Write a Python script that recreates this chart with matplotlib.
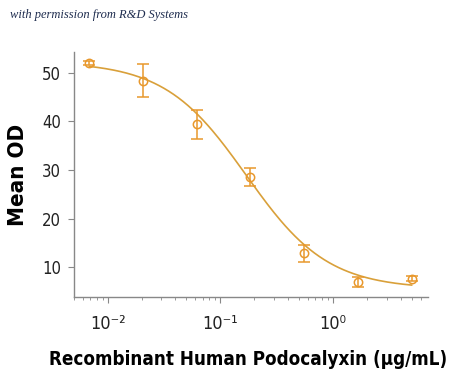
import numpy as np
import matplotlib
matplotlib.use('Agg')
import matplotlib.pyplot as plt
from matplotlib.ticker import LogLocator, NullFormatter, FixedFormatter

# concentrations (ug/mL) and mean OD with error
conc = [0.00686, 0.0206, 0.0617, 0.185, 0.556, 1.667, 5.0]
od = [52.0, 48.4, 39.4, 28.6, 12.8, 7.0, 7.6]
od_err = [0.4, 3.4, 3.0, 1.8, 1.7, 1.0, 0.5]
xtick_vals = [0.01, 0.1, 1.0]
xtick_labels = ['10\u207b\u00b2', '10\u207b\u00b9', '10\u2070']

# four parameter logistic fit
fit_bottom = 5.5
fit_top = 52.3
fit_ec50 = 0.17
fit_hill = 1.2

orange = '#E8982C'
line_col = '#D9A03A'

plt.rcParams['font.family'] = 'DejaVu Sans'
plt.rcParams['font.stretch'] = 'condensed'

fig = plt.figure(figsize=(4.5, 3.82), dpi=100)
ax = fig.add_axes([0.164, 0.222, 0.787, 0.642])

xs = np.logspace(np.log10(conc[0]), np.log10(conc[-1]), 200)
ys = fit_bottom + (fit_top - fit_bottom) / (1 + (xs / fit_ec50) ** fit_hill)
ax.plot(xs, ys, color=line_col, lw=1.2)

ax.errorbar(conc, od, yerr=od_err, fmt='o', ms=6, mfc='none', mec=orange,
            mew=1.1, ecolor=orange, elinewidth=1.1, capsize=4, capthick=1.1)

ax.set_xscale('log')
ax.set_xlim(0.005, 6.98)
ax.set_ylim(3.8, 54.3)
ax.set_yticks([10, 20, 30, 40, 50])
ax.set_xticks(xtick_vals)
ax.xaxis.set_major_formatter(FixedFormatter(xtick_labels))
ax.xaxis.set_minor_locator(LogLocator(base=10, subs=np.arange(2, 10), numticks=10))
ax.xaxis.set_minor_formatter(NullFormatter())

for s in ['top', 'right']:
    ax.spines[s].set_visible(False)
for s in ['left', 'bottom']:
    ax.spines[s].set_color('#888888')
    ax.spines[s].set_linewidth(1.0)

ax.tick_params(axis='both', which='major', colors='#888888', length=4,
               labelcolor='#222222', labelsize=12, pad=5)
ax.tick_params(axis='x', which='minor', colors='#888888', length=2.5)
ax.tick_params(axis='x', labelsize=13, pad=9)

ax.set_ylabel('Mean OD', fontsize=16, fontweight='bold', labelpad=10)
ax.set_xlabel('Recombinant Human Podocalyxin (\u03bcg/mL)', fontsize=13.5,
              fontweight='bold')
ax.xaxis.set_label_coords(0.493, -0.215)

fig.text(0.022, 0.952, 'with permission from R&D Systems', fontsize=9,
         style='italic', family='Liberation Serif', stretch='normal', color='#1F2D4F')

fig.savefig('out.png', dpi=100)
